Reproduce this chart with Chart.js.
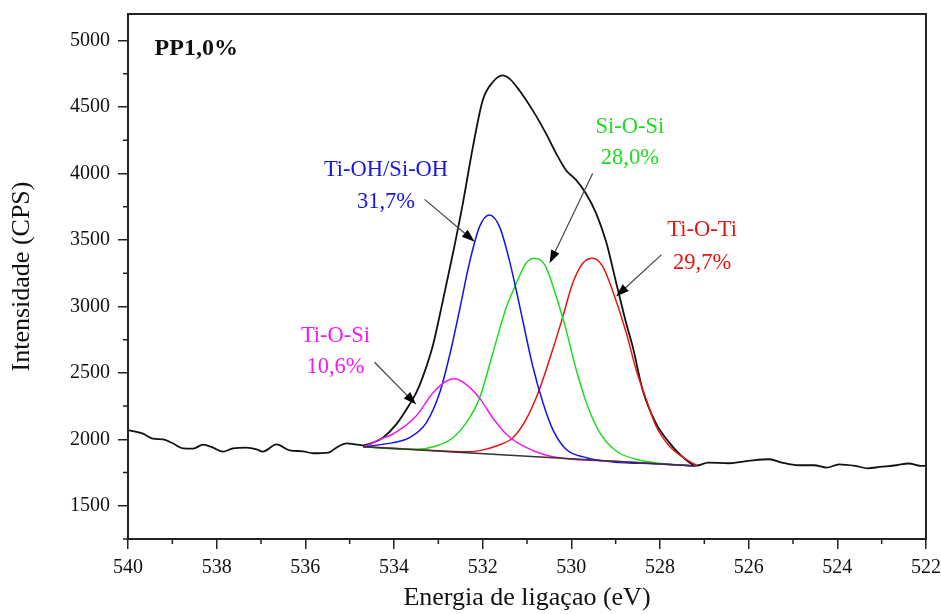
<!DOCTYPE html>
<html>
<head>
<meta charset="utf-8">
<script src="https://cdn.jsdelivr.net/npm/chart.js@4.4.0/dist/chart.umd.min.js"></script>
<style>
  html, body { margin: 0; padding: 0; background: #fff; }
</style>
</head>
<body>
<canvas id="xps" width="941" height="614"></canvas>
<script>
// O 1s spectrum - PP1,0%

// measured spectrum
const dataEnergy = [540.0, 539.66, 539.44, 539.21, 538.99, 538.76, 538.53, 538.31, 538.08, 537.86,
  537.63, 537.33, 537.10, 536.96, 536.65, 536.35, 536.05, 535.83, 535.48, 535.30, 535.07, 534.88,
  534.70, 534.48, 534.25, 533.95, 533.65, 533.50, 533.35, 533.12, 532.90, 532.67, 532.45, 532.22,
  532.00, 531.77, 531.55, 531.39, 531.17, 530.87, 530.57, 530.34, 530.12, 529.89, 529.67, 529.44,
  529.21, 528.99, 528.76, 528.61, 528.39, 528.09, 527.79, 527.49, 527.18, 526.91, 526.45, 526.17,
  525.90, 525.53, 525.25, 524.88, 524.52, 524.24, 523.96, 523.59, 523.31, 523.04, 522.67, 522.39,
  522.12, 522.0];
const dataCounts = [2070, 2043, 2005, 2000, 1970, 1932, 1930, 1960, 1937, 1907,
  1932, 1937, 1925, 1907, 1962, 1917, 1910, 1895, 1900, 1937, 1970, 1962,
  1955, 1975, 2012, 2112, 2262, 2350, 2470, 2710, 3040, 3400, 3770, 4200,
  4550, 4688, 4738, 4712, 4625, 4475, 4300, 4150, 4025, 3950, 3850, 3700,
  3480, 3180, 2870, 2690, 2370, 2120, 1975, 1868, 1802, 1825, 1820, 1830,
  1842, 1850, 1825, 1805, 1805, 1787, 1812, 1800, 1782, 1792, 1805, 1818,
  1800, 1800];

// background
const baseEnergy = [534.70, 527.20];
const baseCounts = [1945, 1800];

// Ti-OH/Si-OH component
const ohEnergy = [534.70, 534.55, 534.02, 533.65, 533.27, 532.97, 532.75, 532.52, 532.30, 532.07,
  531.85, 531.62, 531.40, 531.17, 530.87, 530.64, 530.42, 530.12, 529.66, 529.06, 528.00, 527.20];
const ohCounts = [1945, 1950, 1975, 2012, 2125, 2350, 2625, 2975, 3325, 3600,
  3688, 3600, 3350, 3010, 2550, 2275, 2075, 1925, 1862, 1830, 1815, 1800];

// Si-O-Si component
const sioEnergy = [534.70, 534.40, 533.50, 533.05, 532.67, 532.37, 532.07, 531.77, 531.47, 531.24,
  531.02, 530.83, 530.60, 530.34, 530.12, 529.89, 529.66, 529.36, 528.99, 528.54, 528.01, 527.20];
const sioCounts = [1945, 1937, 1925, 1950, 2012, 2125, 2310, 2650, 2990, 3175,
  3325, 3362, 3312, 3075, 2825, 2525, 2275, 2050, 1912, 1850, 1820, 1800];

// Ti-O-Ti component
const tioEnergy = [534.70, 533.20, 532.40, 532.07, 531.69, 531.32, 531.02, 530.72, 530.42, 530.19,
  529.97, 529.74, 529.52, 529.29, 529.06, 528.76, 528.54, 528.31, 528.09, 527.79, 527.41, 527.18];
const tioCounts = [1945, 1918, 1906, 1915, 1950, 2012, 2150, 2375, 2675, 2925,
  3175, 3325, 3362, 3300, 3110, 2800, 2525, 2300, 2100, 1950, 1850, 1805];

// Ti-O-Si component
const tosEnergy = [534.70, 534.55, 534.32, 534.02, 533.50, 533.12, 532.82, 532.63, 532.37, 532.07,
  531.77, 531.47, 531.09, 530.57, 529.97, 529.00, 528.00, 527.20];
const tosCounts = [1945, 1962, 2000, 2040, 2175, 2350, 2437, 2455, 2412, 2310,
  2160, 2040, 1950, 1880, 1850, 1835, 1815, 1800];

// axis ticks
const xTicks = [540, 538, 536, 534, 532, 530, 528, 526, 524, 522];
const xMinor = [539, 537, 535, 533, 531, 529, 527, 525, 523];
const yTicks = [1500, 2000, 2500, 3000, 3500, 4000, 4500, 5000];
const yMinor = [1250, 1750, 2250, 2750, 3250, 3750, 4250, 4750];

// component labels
const peakNames = ['Ti-OH/Si-OH', 'Si-O-Si', 'Ti-O-Ti', 'Ti-O-Si'];
const peakShares = ['31,7%', '28,0%', '29,7%', '10,6%'];
const sampleName = 'PP1,0%';

const SERIF = '"Liberation Serif", "Times New Roman", serif';
const colBlue = '#1414e6', colGreen = '#1edc1e', colRed = '#e61414', colMag = '#ee1cee';

// where each label and arrow sits (data coords)
const notes = [
  { c: colBlue, tx: 534.18, ty1: 4025, ty2: 3785, from: [533.31, 3805], to: [532.18, 3487] },
  { c: colGreen, tx: 528.68, ty1: 4348, ty2: 4115, from: [529.52, 4000], to: [530.49, 3325] },
  { c: colRed, tx: 527.05, ty1: 3575, ty2: 3328, from: [527.97, 3388], to: [528.99, 3075] },
  { c: colMag, tx: 535.32, ty1: 2780, ty2: 2540, from: [534.44, 2580], to: [533.50, 2262] }
];

function pts(xs, ys) {
  return xs.map((v, i) => ({ x: v, y: ys[i] }));
}

function line(data, color, width) {
  return {
    data: data,
    borderColor: color,
    borderWidth: width,
    pointRadius: 0,
    fill: false,
    tension: 0.4,
    cubicInterpolationMode: 'monotone'
  };
}

const decorations = {
  id: 'decorations',
  afterDraw(chart) {
    const { ctx, chartArea: a, scales: { x, y } } = chart;
    ctx.save();

    // minor ticks
    ctx.strokeStyle = '#222';
    ctx.lineWidth = 1.5;
    ctx.beginPath();
    xMinor.forEach(v => {
      const px = x.getPixelForValue(v);
      ctx.moveTo(px, a.bottom);
      ctx.lineTo(px, a.bottom + 5);
    });
    yMinor.forEach(v => {
      const py = y.getPixelForValue(v);
      ctx.moveTo(a.left, py);
      ctx.lineTo(a.left - 5, py);
    });
    ctx.stroke();

    // frame
    ctx.lineWidth = 2;
    ctx.strokeRect(a.left, a.top, a.right - a.left, a.bottom - a.top);

    // sample name
    ctx.fillStyle = '#111';
    ctx.font = 'bold 24px ' + SERIF;
    ctx.textAlign = 'left';
    ctx.textBaseline = 'middle';
    ctx.fillText(sampleName, x.getPixelForValue(539.40), y.getPixelForValue(4940));

    // component labels + arrows
    notes.forEach((n, i) => {
      const cx = x.getPixelForValue(n.tx);
      ctx.fillStyle = n.c;
      ctx.font = '22.5px ' + SERIF;
      ctx.textAlign = 'center';
      ctx.fillText(peakNames[i], cx, y.getPixelForValue(n.ty1));
      ctx.fillText(peakShares[i], cx, y.getPixelForValue(n.ty2));

      const x0 = x.getPixelForValue(n.from[0]), y0 = y.getPixelForValue(n.from[1]);
      const x1 = x.getPixelForValue(n.to[0]), y1 = y.getPixelForValue(n.to[1]);
      const ang = Math.atan2(y1 - y0, x1 - x0);
      ctx.strokeStyle = '#444';
      ctx.lineWidth = 1.2;
      ctx.beginPath();
      ctx.moveTo(x0, y0);
      ctx.lineTo(x1 - 8 * Math.cos(ang), y1 - 8 * Math.sin(ang));
      ctx.stroke();
      ctx.fillStyle = '#000';
      ctx.beginPath();
      ctx.moveTo(x1, y1);
      ctx.lineTo(x1 - 13 * Math.cos(ang) + 4.5 * Math.sin(ang), y1 - 13 * Math.sin(ang) - 4.5 * Math.cos(ang));
      ctx.lineTo(x1 - 13 * Math.cos(ang) - 4.5 * Math.sin(ang), y1 - 13 * Math.sin(ang) + 4.5 * Math.cos(ang));
      ctx.closePath();
      ctx.fill();
    });
    ctx.restore();
  }
};

new Chart(document.getElementById('xps'), {
  type: 'line',
  data: {
    datasets: [
      line(pts(baseEnergy, baseCounts), '#333', 1.5),
      line(pts(tosEnergy, tosCounts), colMag, 1.5),
      line(pts(ohEnergy, ohCounts), colBlue, 1.5),
      line(pts(sioEnergy, sioCounts), colGreen, 1.5),
      line(pts(tioEnergy, tioCounts), colRed, 1.5),
      line(pts(dataEnergy, dataCounts), '#111', 1.8)
    ]
  },
  options: {
    responsive: false,
    devicePixelRatio: 1,
    animation: false,
    layout: { padding: { top: 14, right: 15, left: 0, bottom: 0 } },
    plugins: {
      legend: { display: false },
      tooltip: { enabled: false }
    },
    scales: {
      x: {
        type: 'linear',
        reverse: true,
        min: 522,
        max: 540,
        afterBuildTicks: s => { s.ticks = xTicks.map(v => ({ value: v })); },
        afterFit: s => { s.height = 75; s.paddingLeft = 0; s.paddingRight = 0; },
        grid: { drawOnChartArea: false, drawTicks: true, tickLength: 10, color: '#222', lineWidth: 1.5 },
        border: { color: '#222', width: 2 },
        ticks: {
          font: { family: SERIF, size: 20 },
          color: '#111',
          padding: 7,
          maxRotation: 0,
          autoSkip: false,
          callback: v => String(v)
        },
        title: {
          display: true,
          text: 'Energia de ligaçao (eV)',
          font: { family: SERIF, size: 26 },
          color: '#111',
          padding: { top: -3, bottom: 0 }
        }
      },
      y: {
        type: 'linear',
        min: 1250,
        max: 5200,
        afterBuildTicks: s => { s.ticks = yTicks.map(v => ({ value: v })); },
        afterFit: s => { s.width = 128; s.paddingTop = 0; s.paddingBottom = 0; },
        grid: { drawOnChartArea: false, drawTicks: true, tickLength: 10, color: '#222', lineWidth: 1.5 },
        border: { color: '#222', width: 2 },
        ticks: {
          font: { family: SERIF, size: 20 },
          color: '#111',
          padding: 8,
          callback: v => String(v)
        },
        title: {
          display: true,
          text: 'Intensidade (CPS)',
          font: { family: SERIF, size: 26 },
          color: '#111',
          padding: { top: 7, bottom: 0 }
        }
      }
    }
  },
  plugins: [decorations]
});
</script>
</body>
</html>
